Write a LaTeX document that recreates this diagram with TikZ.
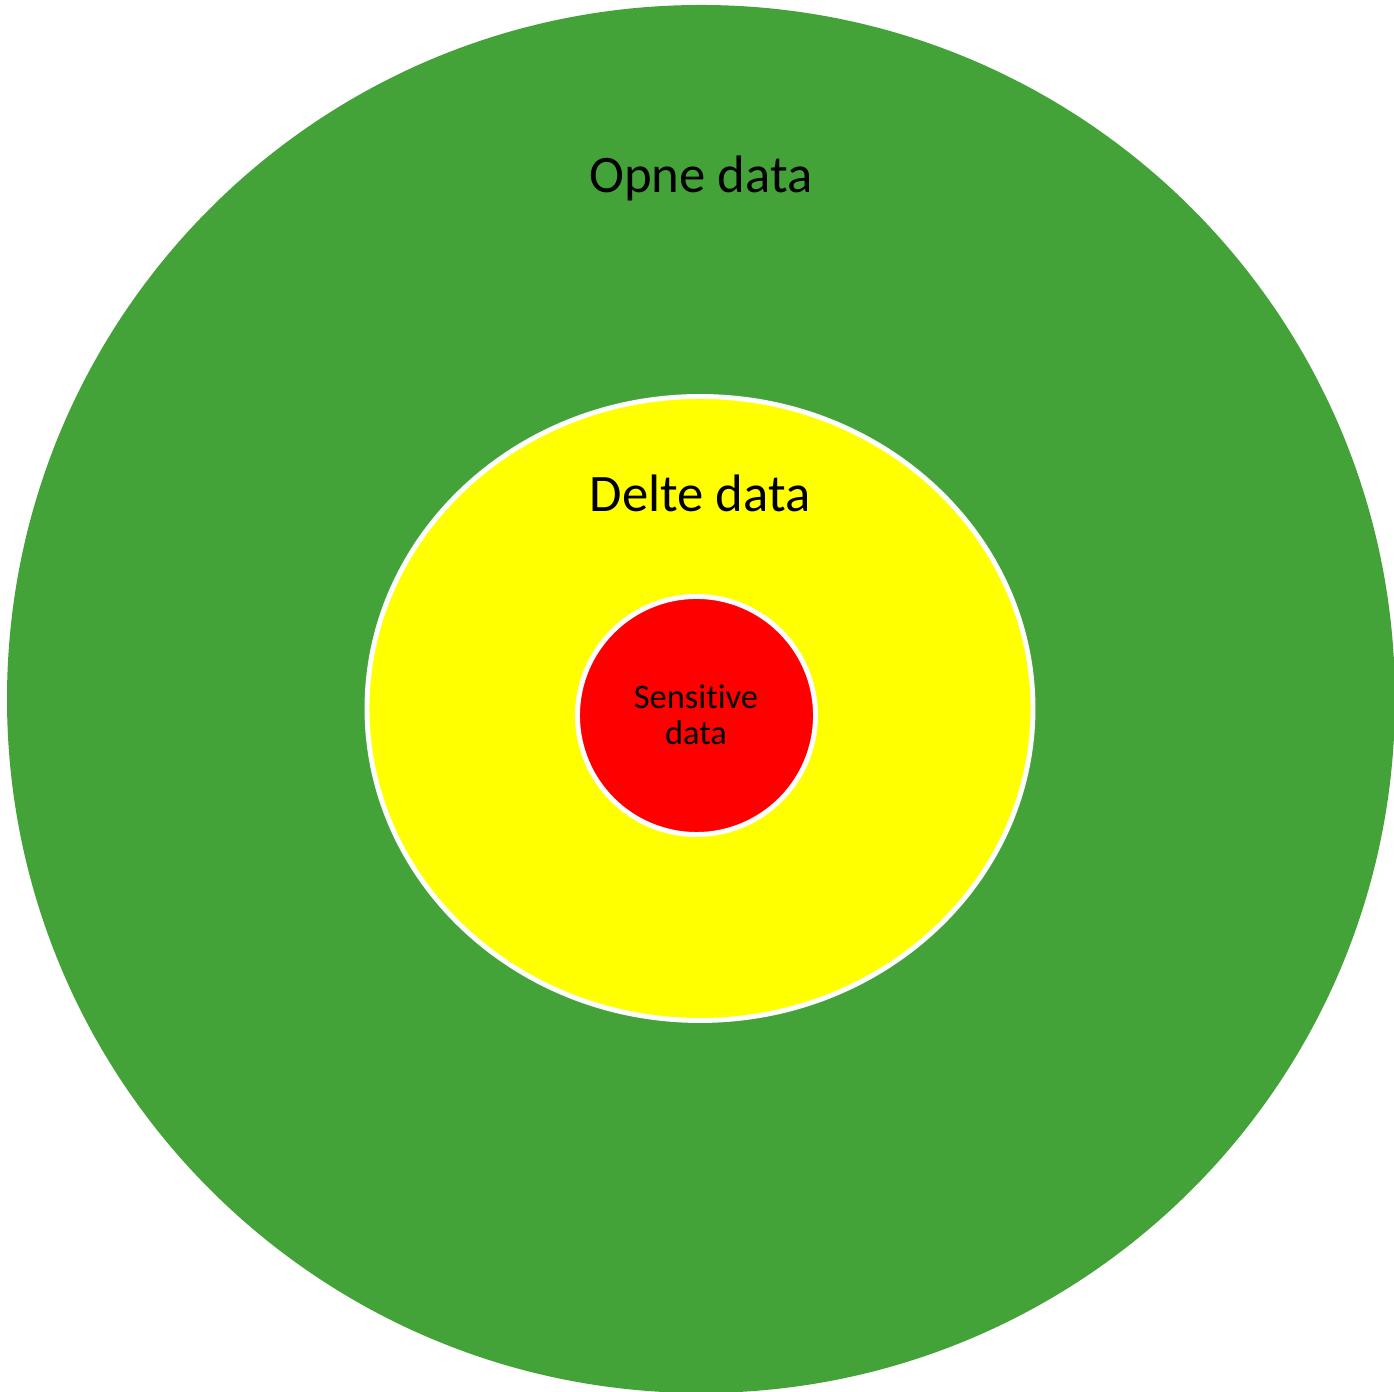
\documentclass[tikz,border=0pt]{standalone}
\usepackage{fontspec}
\setmainfont[Ligatures=NoCommon]{Carlito}
\definecolor{opengreen}{HTML}{43A338}
\definecolor{sharedyellow}{HTML}{FFFF00}
\definecolor{sensred}{HTML}{FF0000}
\begin{document}
\begin{tikzpicture}
      \useasboundingbox (0,0) rectangle (13.94,13.92);
      \coordinate (open) at (7.01,6.93);
      \coordinate (shared) at (7.00,6.835);
      \coordinate (sens) at (6.965,6.765);

      \fill[opengreen] (open) circle (6.94);
      \filldraw[draw=white, fill=sharedyellow, line width=1.4pt]
      (shared) ellipse [x radius=3.33, y radius=3.12];
      \filldraw[draw=white, fill=sensred, line width=1.4pt]
      (sens) circle (1.19);

      \node (opentext) at (7.01,12.14) {\fontsize{15}{18}\selectfont Opne data};
      \node (sharedtext) at (7.00,8.99) {\fontsize{15}{18}\selectfont Delte data};
      \node[align=center, font=\fontsize{9.8}{10.4}\selectfont] (senstext)
      at (6.96,6.77) {Sensitive\\data};
    \end{tikzpicture}
\end{document}
